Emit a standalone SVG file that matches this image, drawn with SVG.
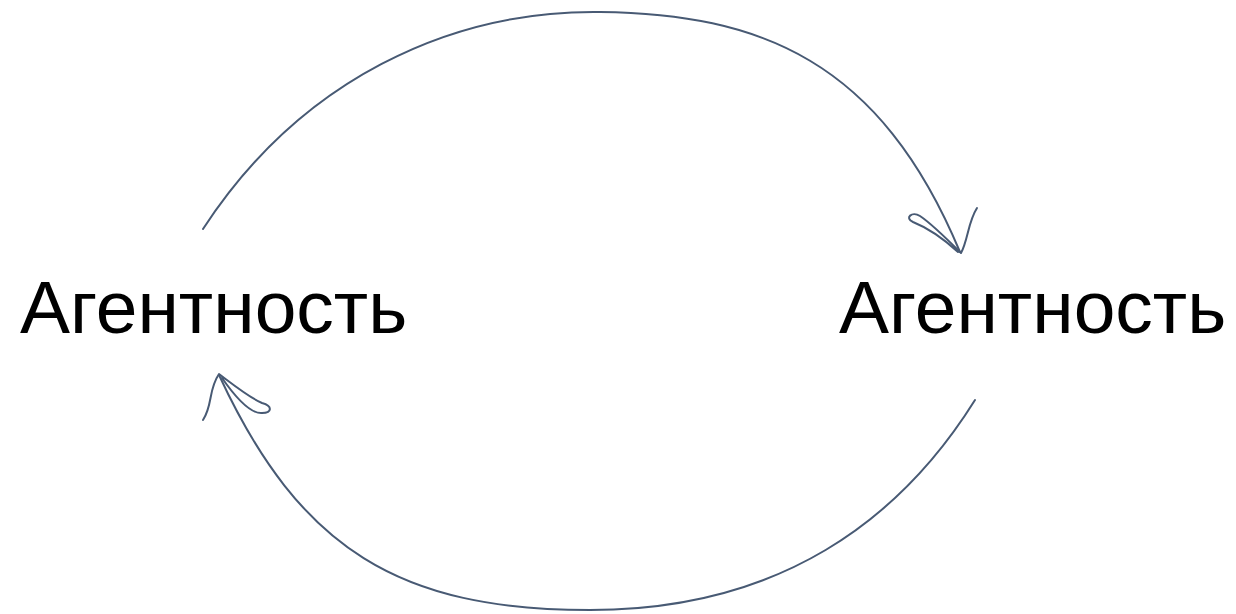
<svg xmlns="http://www.w3.org/2000/svg" width="1236" height="614" viewBox="0 0 1236 614">
<style>
.lbl{font-family:"Liberation Sans",Arial,sans-serif;font-size:75px;fill:#000}
.c{fill:none;stroke:#485a74;stroke-width:2;stroke-linecap:round;stroke-linejoin:round}
</style>
<rect width="1236" height="614" fill="#fff"/>
<g id="node-left"><text class="lbl" x="20" y="333">Агентность</text></g>
<g id="node-right"><text class="lbl" x="839" y="333">Агентность</text></g>
<g id="connectors">
<path class="c" d="M203,229 C300,80 450,10 600,12 C760,14 880,60 960,252"/>
<path class="c" d="M977,208 C968,222 968,240 961,253 C948,240 932,224 920,216 C912,211 904,218 913,222 C928,228 946,241 958,252"/>
<path class="c" d="M975,400 C900,520 780,610 590,610 C400,610 300,550 219,375"/>
<path class="c" d="M203,420 C213,405 208,390 219,374 C235,386 250,398 262,403 C273,406 272,413 262,413 C250,414 236,398 222,378"/>
</g>
</svg>
